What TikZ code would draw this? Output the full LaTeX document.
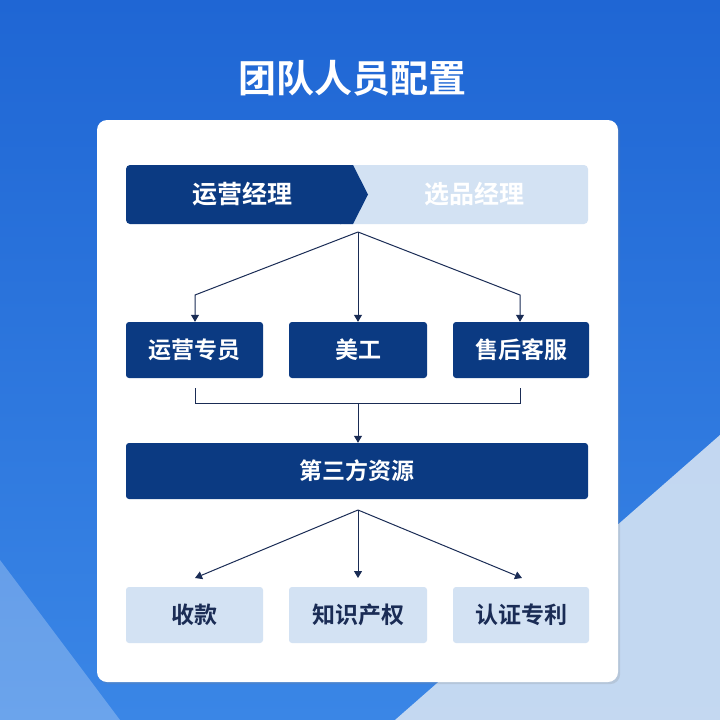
\documentclass[tikz,border=0pt]{standalone}
\usepackage{fontspec}
\newfontfamily\cjk[BoldFont={Noto Sans CJK SC Bold}]{Noto Sans CJK SC}
\usetikzlibrary{arrows.meta,shadows}
\definecolor{navy}{HTML}{0B3A82}
\definecolor{pale}{HTML}{D3E2F3}
\definecolor{bgA}{HTML}{3A86E6}
\definecolor{bgB}{HTML}{1F66D4}
\definecolor{conn}{HTML}{1A2C55}
\begin{document}
\begin{tikzpicture}[x=1pt,y=-1pt,
  dark/.style={fill=navy,rounded corners=3pt,text=white,font=\cjk\bfseries\fontsize{23}{26}\selectfont},
  light/.style={fill=pale,rounded corners=3pt,text=conn,font=\cjk\bfseries\fontsize{23}{26}\selectfont},
  con/.style={draw=conn,line width=1pt},
  arr/.style={con,-{Triangle[length=7pt,width=8pt]}}]
\useasboundingbox (0,0) rectangle (720,720);
\shade[top color=bgB,bottom color=bgA] (0,0) rectangle (720,720);
\fill[white,opacity=0.25] (0,720) -- (0,560) -- (120,720) -- cycle;
\fill[pale,opacity=0.9] (720,435) -- (720,720) -- (395,720) -- cycle;
\node[text=white,font=\cjk\bfseries\fontsize{38}{42}\selectfont] (title) at (352,78) {团队人员配置};
\fill[white,rounded corners=10pt,drop shadow={opacity=0.2}] (97,120) rectangle (618,682);
% top bar
\fill[pale,rounded corners=4pt] (340,165) rectangle (588,224);
\fill[navy,rounded corners=4pt] (126,165) rectangle (345,224);
\fill[navy] (340,165) -- (353,165) -- (368,194.5) -- (353,224) -- (340,224) -- cycle;
\node[text=white,font=\cjk\bfseries\fontsize{25}{28}\selectfont] (yy) at (242,194.5) {运营经理};
\node[text=white,font=\cjk\bfseries\fontsize{25}{28}\selectfont] (xp) at (474,194.5) {选品经理};
\coordinate (t) at (358,232);
% row 2
\node[dark,minimum width=137pt,minimum height=56pt] (a1) at (194.5,350) {运营专员};
\node[dark,minimum width=138pt,minimum height=56pt] (a2) at (358,350) {美工};
\node[dark,minimum width=136pt,minimum height=56pt] (a3) at (521,350) {售后客服};
\draw[arr] (t) -- (195,295) -- (a1.north -| 195,0);
\draw[arr] (t) -- (a2.north);
\draw[arr] (t) -- (520,295) -- (a3.north -| 520,0);
% merge
\coordinate (m) at (358,403);
\draw[con] (195,388) -- (195,403) -- (520,403) -- (520,388);
\node[dark,minimum width=462pt,minimum height=56pt] (b) at (357,471) {第三方资源};
\draw[arr] (m) -- (m |- b.north);
% row 3
\node[light,minimum width=137pt,minimum height=56pt] (c1) at (194.5,615) {收款};
\node[light,minimum width=138pt,minimum height=56pt] (c2) at (358,615) {知识产权};
\node[light,minimum width=136pt,minimum height=56pt] (c3) at (521,615) {认证专利};
\coordinate (s) at (358,510);
\draw[arr] (s) -- (195,578);
\draw[arr] (s) -- (358,578);
\draw[arr] (s) -- (522,578);
\end{tikzpicture}
\end{document}
